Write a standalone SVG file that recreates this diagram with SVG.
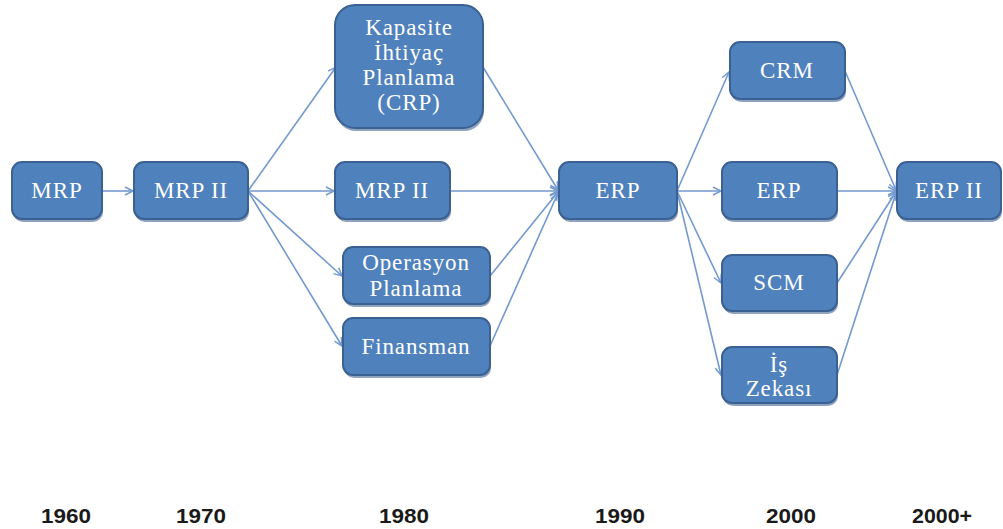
<svg xmlns="http://www.w3.org/2000/svg" width="1003" height="529" viewBox="0 0 1003 529">
<style>
.box{fill:#4F81BD;stroke:#3A6191;stroke-width:2}
.sh{fill:#8FA3BF}
.t{fill:#FFFFFF;font-family:"Liberation Serif","Times New Roman",serif;font-size:23px;letter-spacing:0.9px;text-anchor:middle}
.yr{fill:#1A1A1A;font-family:"Liberation Sans",Arial,sans-serif;font-weight:bold;font-size:21px;text-anchor:middle}
.c{stroke:#7399CF;stroke-width:1.6;fill:none;marker-end:url(#arr)}
</style>
<defs>
<marker id="arr" markerWidth="12" markerHeight="12" refX="9" refY="5" orient="auto" markerUnits="userSpaceOnUse">
<path d="M1,1 L9,5 L1,9" fill="none" stroke="#7399CF" stroke-width="1.5"/>
</marker>
</defs>
<rect width="1003" height="529" fill="#FFFFFF"/>
<g id="connectors">
<line class="c" x1="103" y1="191" x2="133" y2="191"/>
<line class="c" x1="248" y1="191" x2="336" y2="67"/>
<line class="c" x1="248" y1="191" x2="334" y2="191"/>
<line class="c" x1="248" y1="191" x2="342" y2="276"/>
<line class="c" x1="248" y1="191" x2="342" y2="346"/>
<line class="c" x1="483" y1="67" x2="558" y2="190"/>
<line class="c" x1="450" y1="191" x2="558" y2="191"/>
<line class="c" x1="490" y1="276" x2="558" y2="192"/>
<line class="c" x1="490" y1="346" x2="558" y2="193"/>
<line class="c" x1="677" y1="191" x2="729" y2="72"/>
<line class="c" x1="677" y1="191" x2="721" y2="191"/>
<line class="c" x1="677" y1="191" x2="721" y2="283"/>
<line class="c" x1="677" y1="191" x2="721" y2="375"/>
<line class="c" x1="845" y1="71" x2="896" y2="190"/>
<line class="c" x1="837" y1="191" x2="896" y2="191"/>
<line class="c" x1="837" y1="283" x2="896" y2="192"/>
<line class="c" x1="837" y1="375" x2="896" y2="193"/>
</g>
<g id="n-mrp">
<rect class="sh" x="13" y="165" width="90" height="57" rx="10"/>
<rect class="box" x="12" y="162" width="90" height="57" rx="10"/>
<text class="t" x="57" y="198">MRP</text>
</g>
<g id="n-mrp2-1970">
<rect class="sh" x="135" y="165" width="114" height="57" rx="10"/>
<rect class="box" x="134" y="162" width="114" height="57" rx="10"/>
<text class="t" x="191" y="198">MRP II</text>
</g>
<g id="n-crp">
<rect class="sh" x="336" y="8" width="148" height="123" rx="20"/>
<rect class="box" x="335" y="5" width="148" height="123" rx="20"/>
<text class="t" x="409" y="35">Kapasite</text>
<text class="t" x="409" y="60">İhtiyaç</text>
<text class="t" x="409" y="85">Planlama</text>
<text class="t" x="409" y="110">(CRP)</text>
</g>
<g id="n-mrp2-1980">
<rect class="sh" x="336" y="165" width="115" height="57" rx="10"/>
<rect class="box" x="335" y="162" width="115" height="57" rx="10"/>
<text class="t" x="392" y="198">MRP II</text>
</g>
<g id="n-operasyon">
<rect class="sh" x="344" y="250" width="147" height="57" rx="10"/>
<rect class="box" x="343" y="247" width="147" height="57" rx="10"/>
<text class="t" x="416" y="270">Operasyon</text>
<text class="t" x="416" y="296">Planlama</text>
</g>
<g id="n-finansman">
<rect class="sh" x="344" y="321" width="147" height="57" rx="10"/>
<rect class="box" x="343" y="318" width="147" height="57" rx="10"/>
<text class="t" x="416" y="354">Finansman</text>
</g>
<g id="n-erp-1990">
<rect class="sh" x="560" y="165" width="118" height="57" rx="10"/>
<rect class="box" x="559" y="162" width="118" height="57" rx="10"/>
<text class="t" x="618" y="198">ERP</text>
</g>
<g id="n-crm">
<rect class="sh" x="731" y="45" width="115" height="57" rx="10"/>
<rect class="box" x="730" y="42" width="115" height="57" rx="10"/>
<text class="t" x="787" y="78">CRM</text>
</g>
<g id="n-erp-2000">
<rect class="sh" x="723" y="165" width="115" height="57" rx="10"/>
<rect class="box" x="722" y="162" width="115" height="57" rx="10"/>
<text class="t" x="779" y="198">ERP</text>
</g>
<g id="n-scm">
<rect class="sh" x="723" y="258" width="115" height="56" rx="10"/>
<rect class="box" x="722" y="255" width="115" height="56" rx="10"/>
<text class="t" x="779" y="290">SCM</text>
</g>
<g id="n-is-zekasi">
<rect class="sh" x="723" y="350" width="115" height="56" rx="10"/>
<rect class="box" x="722" y="347" width="115" height="56" rx="10"/>
<text class="t" x="779" y="372">İş</text>
<text class="t" x="779" y="396">Zekası</text>
</g>
<g id="n-erp2">
<rect class="sh" x="898" y="165" width="104" height="57" rx="10"/>
<rect class="box" x="897" y="162" width="104" height="57" rx="10"/>
<text class="t" x="949" y="198">ERP II</text>
</g>
<g id="years">
<text class="yr" x="66" y="523" textLength="50" lengthAdjust="spacingAndGlyphs">1960</text>
<text class="yr" x="201" y="523" textLength="50" lengthAdjust="spacingAndGlyphs">1970</text>
<text class="yr" x="404" y="523" textLength="50" lengthAdjust="spacingAndGlyphs">1980</text>
<text class="yr" x="620" y="523" textLength="50" lengthAdjust="spacingAndGlyphs">1990</text>
<text class="yr" x="791" y="523" textLength="50" lengthAdjust="spacingAndGlyphs">2000</text>
<text class="yr" x="942" y="523" textLength="60" lengthAdjust="spacingAndGlyphs">2000+</text>
</g>
</svg>
